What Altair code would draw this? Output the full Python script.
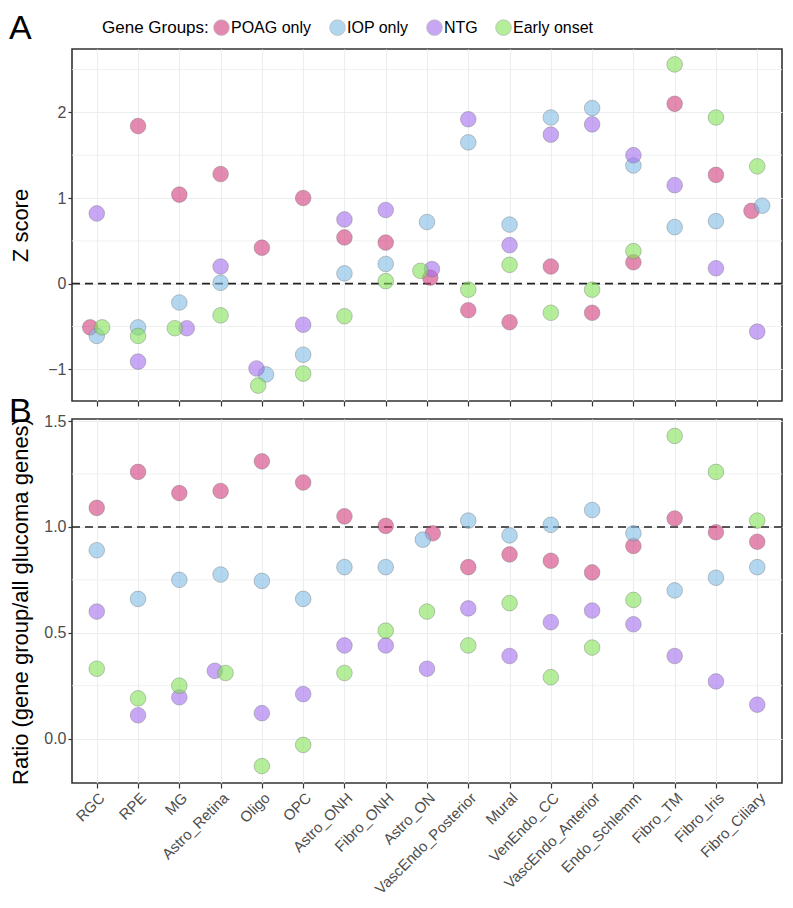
import json
import altair as alt
import pandas as pd

categories = ["RGC", "RPE", "MG", "Astro_Retina", "Oligo", "OPC", "Astro_ONH",
              "Fibro_ONH", "Astro_ON", "VascEndo_Posterior", "Mural", "VenEndo_CC",
              "VascEndo_Anterior", "Endo_Schlemm", "Fibro_TM", "Fibro_Iris", "Fibro_Ciliary"]
groups = ["POAG only", "IOP only", "NTG", "Early onset"]
colors = ["#D23C7B", "#82BCE6", "#A36EEE", "#84E357"]

# Panel A: Z scores
z_poag = [-0.51, 1.84, 1.04, 1.28, 0.42, 1.00, 0.54, 0.48, 0.07, -0.31, -0.45, 0.20, -0.34, 0.25, 2.10, 1.27, 0.85]
z_iop = [-0.61, -0.51, -0.22, 0.01, -1.06, -0.83, 0.12, 0.23, 0.72, 1.65, 0.69, 1.94, 2.05, 1.38, 0.66, 0.73, 0.91]
z_ntg = [0.82, -0.91, -0.52, 0.20, -0.99, -0.48, 0.75, 0.86, 0.17, 1.92, 0.45, 1.74, 1.86, 1.50, 1.15, 0.18, -0.56]
z_early = [-0.51, -0.61, -0.52, -0.37, -1.19, -1.05, -0.38, 0.03, 0.15, -0.07, 0.22, -0.34, -0.07, 0.38, 2.56, 1.94, 1.37]

# Panel B: ratio (gene group / all glaucoma genes)
r_poag = [1.09, 1.26, 1.16, 1.17, 1.31, 1.21, 1.05, 1.005, 0.97, 0.81, 0.87, 0.84, 0.785, 0.91, 1.04, 0.975, 0.93]
r_iop = [0.89, 0.66, 0.75, 0.775, 0.745, 0.66, 0.81, 0.81, 0.94, 1.03, 0.96, 1.01, 1.08, 0.97, 0.70, 0.76, 0.81]
r_ntg = [0.60, 0.11, 0.195, 0.32, 0.12, 0.21, 0.44, 0.44, 0.33, 0.615, 0.39, 0.55, 0.605, 0.54, 0.39, 0.27, 0.16]
r_early = [0.33, 0.19, 0.25, 0.31, -0.13, -0.03, 0.31, 0.51, 0.60, 0.44, 0.64, 0.29, 0.43, 0.655, 1.43, 1.26, 1.03]

# small horizontal dodge of overlapping points (category units)
z_dodge = {"POAG only": {0: -0.16, 8: 0.08, 16: -0.14},
           "IOP only": {4: 0.10, 16: 0.12},
           "NTG": {2: 0.18, 4: -0.13, 8: 0.12},
           "Early onset": {0: 0.13, 2: -0.11, 4: -0.09, 8: -0.16}}
r_dodge = {"POAG only": {8: 0.14},
           "IOP only": {8: -0.10},
           "NTG": {3: -0.14},
           "Early onset": {3: 0.12}}

z_minor = [-0.5, 0.5, 1.5, 2.5]
r_minor = [0.25, 0.75, 1.25]
z_ref = [0.0]
r_ref = [1.0]


def build(series, dodge):
    rows = []
    for g, vals in zip(groups, series):
        for i, v in enumerate(vals):
            rows.append({"cell": categories[i], "group": g,
                         "xpos": i + dodge[g].get(i, 0.0), "value": v})
    return pd.DataFrame(rows)


dfA = build([z_poag, z_iop, z_ntg, z_early], z_dodge)
dfB = build([r_poag, r_iop, r_ntg, r_early], r_dodge)

FONT = "Liberation Sans"
label_expr = json.dumps(categories) + "[datum.value]"
xscale = alt.Scale(domain=[-0.6, 16.6], nice=False, zero=False)
grid_color = "#EBEEF0"
W = 710


def xaxis(show_labels):
    return alt.Axis(values=list(range(len(categories))), labels=show_labels,
                    labelExpr=label_expr, labelAngle=-45, labelFontSize=15,
                    labelColor="#4D4D4D", labelFont=FONT, labelPadding=2,
                    labelOverlap=False, labelBound=False, labelFlush=False,
                    ticks=True, tickColor="#333333", tickSize=5, tickWidth=1.2,
                    grid=True, gridColor=grid_color, gridWidth=1.2,
                    domain=False, title=None)


def yaxis(title, values, fmt):
    return alt.Axis(values=values, format=fmt, labelFontSize=16, labelColor="#4D4D4D",
                    labelFont=FONT, labelPadding=2, labelOverlap=False, labelFlush=False,
                    ticks=True, tickColor="#333333",
                    tickSize=4, tickWidth=1.2, grid=True, gridColor=grid_color,
                    gridWidth=1.2, domain=False, title=title, titleFont=FONT,
                    titleFontSize=22, titleFontWeight="normal", titleColor="#000000",
                    titleX=-45, titleBaseline="alphabetic")


def panel(df, minor, ref, ydomain, yvals, fmt, ytitle, letter, letter_offset,
          show_labels, legend, height):
    yscale = alt.Scale(domain=ydomain, nice=False, zero=False)
    minor_layer = alt.Chart(pd.DataFrame({"m": minor})).mark_rule(
        color=grid_color, strokeWidth=0.8).encode(y=alt.Y("m:Q", scale=yscale))
    ref_layer = alt.Chart(pd.DataFrame({"r": ref})).mark_rule(
        color="#222222", strokeWidth=1.6, strokeDash=[8, 5]).encode(
        y=alt.Y("r:Q", scale=yscale))
    pts = alt.Chart(df).mark_circle(
        size=245, fillOpacity=0.6, stroke="#6E6E6E", strokeWidth=0.7,
        strokeOpacity=0.55).encode(
        x=alt.X("xpos:Q", scale=xscale, axis=xaxis(show_labels)),
        y=alt.Y("value:Q", scale=yscale, axis=yaxis(ytitle, yvals, fmt)),
        color=alt.Color("group:N", scale=alt.Scale(domain=groups, range=colors),
                        legend=legend),
        tooltip=["cell", "group", "value"])
    return alt.layer(minor_layer, ref_layer, pts).properties(
        width=W, height=height,
        title=alt.Title(letter, anchor="start", frame="bounds", fontSize=34,
                        fontWeight="normal", font=FONT, color="#000000",
                        baseline="alphabetic", offset=letter_offset, dx=0))


legend = alt.Legend(title="Gene Groups:", orient="none", legendX=30, legendY=-30,
                    direction="horizontal", titleOrient="left", titleFontSize=17,
                    titleFontWeight="normal", titleFont=FONT, titleColor="#000000",
                    titlePadding=4, labelFontSize=16, labelFont=FONT,
                    labelColor="#000000", labelOffset=1, symbolType="circle",
                    symbolSize=245, symbolOpacity=0.6, symbolStrokeWidth=0.7,
                    symbolStrokeColor="#8A8A8A", columnPadding=16)

A = panel(dfA, z_minor, z_ref, [-1.37, 2.74], [-1, 0, 1, 2], "d", "Z score", "A", -24,
          False, legend, 352)
B = panel(dfB, r_minor, r_ref, [-0.21, 1.51], [0, 0.5, 1.0, 1.5], ".1f",
          "Ratio (gene group/all glucoma genes)", "B", -43, True, None, 364)

chart = alt.vconcat(A, B, spacing=18, bounds="flush").properties(
    padding={"left": 0, "top": 3, "right": 0, "bottom": 0}, background="white"
).configure_view(stroke="#333333", strokeWidth=1.6)

chart.save("out.html", embed_options={"renderer": "svg", "actions": False})
